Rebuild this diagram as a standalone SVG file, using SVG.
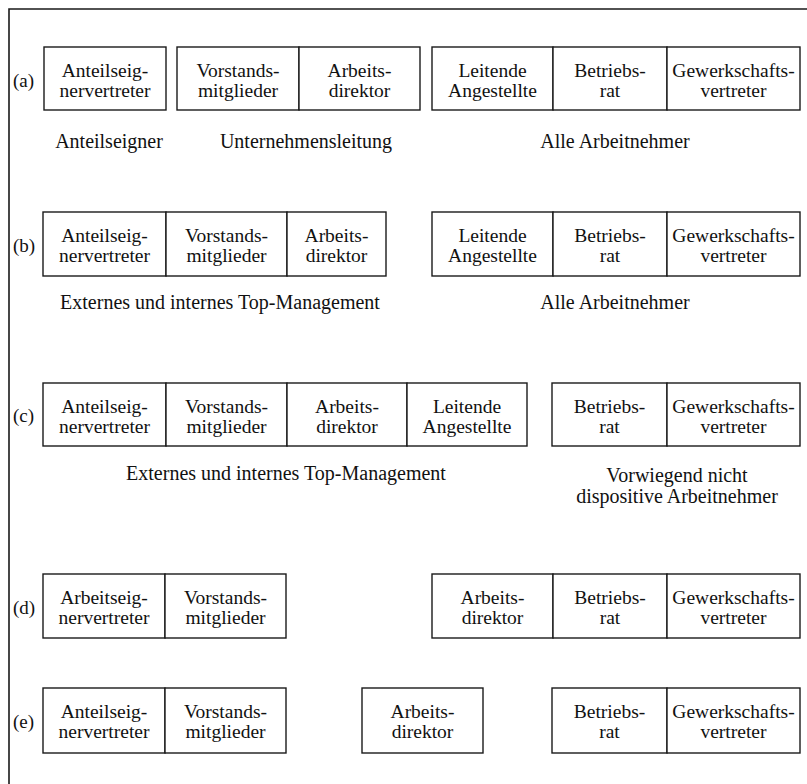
<svg xmlns="http://www.w3.org/2000/svg" width="807" height="784" viewBox="0 0 807 784">
  <style>
    .frame { fill: none; stroke: #1a1a1a; stroke-width: 1.6; }
    .cell rect { fill: #ffffff; stroke: #1a1a1a; stroke-width: 1.4; }
    text { font-family: "Liberation Serif", "Times New Roman", serif; fill: #111; }
    .ct { font-size: 19.5px; text-anchor: middle; }
    .lbl { font-size: 20px; text-anchor: middle; }
    .row { font-size: 19px; }
  </style>

  <rect width="807" height="784" fill="#ffffff"/>

  <!-- outer frame: top and left rules -->
  <path class="frame" d="M9,784 V9 H807"/>

  <!-- row markers -->
  <g id="row-labels">
    <text class="row" x="13" y="87">(a)</text>
    <text class="row" x="13" y="252">(b)</text>
    <text class="row" x="13" y="422">(c)</text>
    <text class="row" x="13" y="614">(d)</text>
    <text class="row" x="13" y="728">(e)</text>
  </g>

  <!-- no connectors in this figure -->
  <g id="connectors"/>

  <!-- ===== (a) ===== -->
  <g id="a-anteilseignervertreter" class="cell">
    <rect x="44" y="47" width="122" height="63"/>
    <text class="ct" x="105" y="76.5">Anteilseig-</text>
    <text class="ct" x="105" y="97">nervertreter</text>
  </g>
  <g id="a-vorstandsmitglieder" class="cell">
    <rect x="177" y="47" width="122" height="63"/>
    <text class="ct" x="238" y="76.5">Vorstands-</text>
    <text class="ct" x="238" y="97">mitglieder</text>
  </g>
  <g id="a-arbeitsdirektor" class="cell">
    <rect x="299" y="47" width="121" height="63"/>
    <text class="ct" x="359.5" y="76.5">Arbeits-</text>
    <text class="ct" x="359.5" y="97">direktor</text>
  </g>
  <g id="a-leitende-angestellte" class="cell">
    <rect x="432" y="47" width="121" height="63"/>
    <text class="ct" x="492.5" y="76.5">Leitende</text>
    <text class="ct" x="492.5" y="97">Angestellte</text>
  </g>
  <g id="a-betriebsrat" class="cell">
    <rect x="553" y="47" width="114" height="63"/>
    <text class="ct" x="610" y="76.5">Betriebs-</text>
    <text class="ct" x="610" y="97">rat</text>
  </g>
  <g id="a-gewerkschaftsvertreter" class="cell">
    <rect x="667" y="47" width="133" height="63"/>
    <text class="ct" x="733.5" y="76.5">Gewerkschafts-</text>
    <text class="ct" x="733.5" y="97">vertreter</text>
  </g>
  <g id="a-groups">
    <text class="lbl" x="109" y="148">Anteilseigner</text>
    <text class="lbl" x="306" y="148">Unternehmensleitung</text>
    <text class="lbl" x="615" y="148">Alle Arbeitnehmer</text>
  </g>

  <!-- ===== (b) ===== -->
  <g id="b-anteilseignervertreter" class="cell">
    <rect x="43" y="212" width="123" height="64"/>
    <text class="ct" x="104.5" y="241.5">Anteilseig-</text>
    <text class="ct" x="104.5" y="262">nervertreter</text>
  </g>
  <g id="b-vorstandsmitglieder" class="cell">
    <rect x="166" y="212" width="121" height="64"/>
    <text class="ct" x="226.5" y="241.5">Vorstands-</text>
    <text class="ct" x="226.5" y="262">mitglieder</text>
  </g>
  <g id="b-arbeitsdirektor" class="cell">
    <rect x="287" y="212" width="99" height="64"/>
    <text class="ct" x="336.5" y="241.5">Arbeits-</text>
    <text class="ct" x="336.5" y="262">direktor</text>
  </g>
  <g id="b-leitende-angestellte" class="cell">
    <rect x="432" y="212" width="121" height="64"/>
    <text class="ct" x="492.5" y="241.5">Leitende</text>
    <text class="ct" x="492.5" y="262">Angestellte</text>
  </g>
  <g id="b-betriebsrat" class="cell">
    <rect x="553" y="212" width="114" height="64"/>
    <text class="ct" x="610" y="241.5">Betriebs-</text>
    <text class="ct" x="610" y="262">rat</text>
  </g>
  <g id="b-gewerkschaftsvertreter" class="cell">
    <rect x="667" y="212" width="133" height="64"/>
    <text class="ct" x="733.5" y="241.5">Gewerkschafts-</text>
    <text class="ct" x="733.5" y="262">vertreter</text>
  </g>
  <g id="b-groups">
    <text class="lbl" x="220" y="309">Externes und internes Top-Management</text>
    <text class="lbl" x="615" y="309">Alle Arbeitnehmer</text>
  </g>

  <!-- ===== (c) ===== -->
  <g id="c-anteilseignervertreter" class="cell">
    <rect x="43" y="383" width="123" height="63"/>
    <text class="ct" x="104.5" y="412.5">Anteilseig-</text>
    <text class="ct" x="104.5" y="433">nervertreter</text>
  </g>
  <g id="c-vorstandsmitglieder" class="cell">
    <rect x="166" y="383" width="121" height="63"/>
    <text class="ct" x="226.5" y="412.5">Vorstands-</text>
    <text class="ct" x="226.5" y="433">mitglieder</text>
  </g>
  <g id="c-arbeitsdirektor" class="cell">
    <rect x="287" y="383" width="120" height="63"/>
    <text class="ct" x="347" y="412.5">Arbeits-</text>
    <text class="ct" x="347" y="433">direktor</text>
  </g>
  <g id="c-leitende-angestellte" class="cell">
    <rect x="407" y="383" width="120" height="63"/>
    <text class="ct" x="467" y="412.5">Leitende</text>
    <text class="ct" x="467" y="433">Angestellte</text>
  </g>
  <g id="c-betriebsrat" class="cell">
    <rect x="552" y="383" width="115" height="63"/>
    <text class="ct" x="609.5" y="412.5">Betriebs-</text>
    <text class="ct" x="609.5" y="433">rat</text>
  </g>
  <g id="c-gewerkschaftsvertreter" class="cell">
    <rect x="667" y="383" width="133" height="63"/>
    <text class="ct" x="733.5" y="412.5">Gewerkschafts-</text>
    <text class="ct" x="733.5" y="433">vertreter</text>
  </g>
  <g id="c-groups">
    <text class="lbl" x="286" y="480">Externes und internes Top-Management</text>
    <text class="lbl" x="677" y="482">Vorwiegend nicht</text>
    <text class="lbl" x="677" y="503">dispositive Arbeitnehmer</text>
  </g>

  <!-- ===== (d) ===== -->
  <g id="d-arbeitseignervertreter" class="cell">
    <rect x="43" y="574" width="122" height="64"/>
    <text class="ct" x="104" y="603.5">Arbeitseig-</text>
    <text class="ct" x="104" y="624">nervertreter</text>
  </g>
  <g id="d-vorstandsmitglieder" class="cell">
    <rect x="165" y="574" width="121" height="64"/>
    <text class="ct" x="225.5" y="603.5">Vorstands-</text>
    <text class="ct" x="225.5" y="624">mitglieder</text>
  </g>
  <g id="d-arbeitsdirektor" class="cell">
    <rect x="432" y="574" width="121" height="64"/>
    <text class="ct" x="492.5" y="603.5">Arbeits-</text>
    <text class="ct" x="492.5" y="624">direktor</text>
  </g>
  <g id="d-betriebsrat" class="cell">
    <rect x="553" y="574" width="114" height="64"/>
    <text class="ct" x="610" y="603.5">Betriebs-</text>
    <text class="ct" x="610" y="624">rat</text>
  </g>
  <g id="d-gewerkschaftsvertreter" class="cell">
    <rect x="667" y="574" width="133" height="64"/>
    <text class="ct" x="733.5" y="603.5">Gewerkschafts-</text>
    <text class="ct" x="733.5" y="624">vertreter</text>
  </g>

  <!-- ===== (e) ===== -->
  <g id="e-anteilseignervertreter" class="cell">
    <rect x="43" y="688" width="122" height="65"/>
    <text class="ct" x="104" y="717.5">Anteilseig-</text>
    <text class="ct" x="104" y="738">nervertreter</text>
  </g>
  <g id="e-vorstandsmitglieder" class="cell">
    <rect x="165" y="688" width="121" height="65"/>
    <text class="ct" x="225.5" y="717.5">Vorstands-</text>
    <text class="ct" x="225.5" y="738">mitglieder</text>
  </g>
  <g id="e-arbeitsdirektor" class="cell">
    <rect x="362" y="688" width="121" height="65"/>
    <text class="ct" x="422.5" y="717.5">Arbeits-</text>
    <text class="ct" x="422.5" y="738">direktor</text>
  </g>
  <g id="e-betriebsrat" class="cell">
    <rect x="552" y="688" width="115" height="65"/>
    <text class="ct" x="609.5" y="717.5">Betriebs-</text>
    <text class="ct" x="609.5" y="738">rat</text>
  </g>
  <g id="e-gewerkschaftsvertreter" class="cell">
    <rect x="667" y="688" width="133" height="65"/>
    <text class="ct" x="733.5" y="717.5">Gewerkschafts-</text>
    <text class="ct" x="733.5" y="738">vertreter</text>
  </g>
</svg>
